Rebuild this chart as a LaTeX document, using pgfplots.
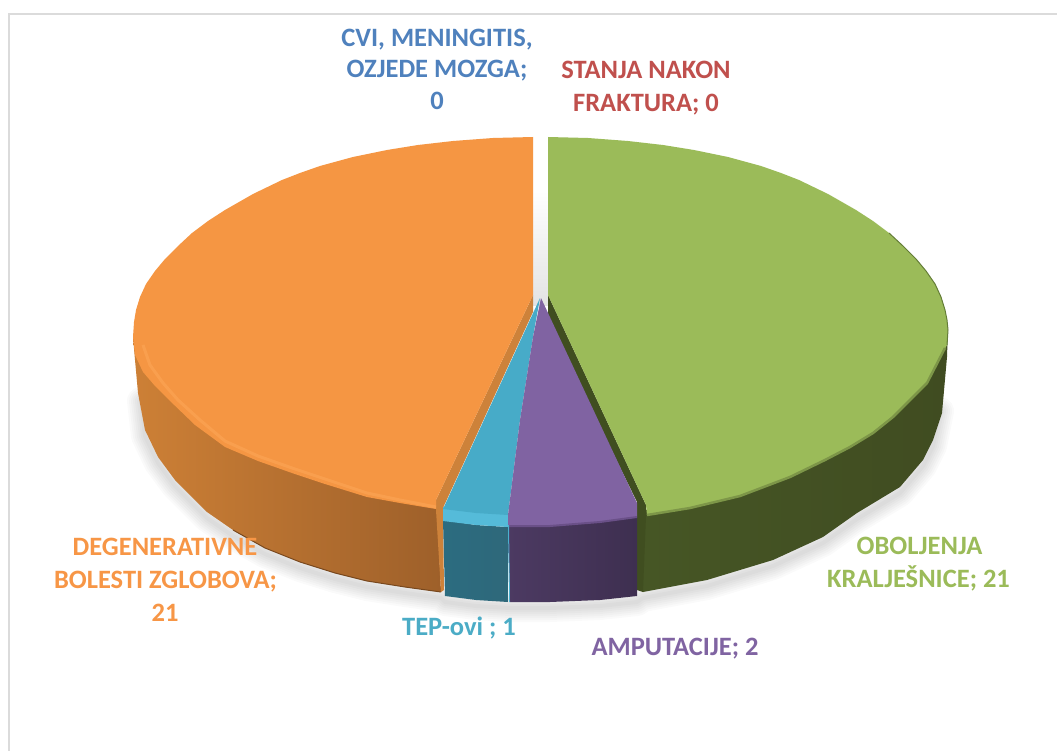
\documentclass[border=0pt]{standalone}
\usepackage{pgfplots}
\pgfplotsset{compat=1.18}
\usepackage{fontspec}
\setmainfont{Carlito}
\definecolor{cor}{HTML}{F59643}
\definecolor{cgr}{HTML}{9BBB59}
\definecolor{cbl}{HTML}{47ABC8}
\definecolor{cpu}{HTML}{8063A2}
\definecolor{lor}{HTML}{F79646}
\definecolor{lgr}{HTML}{9BBB59}
\definecolor{lbl}{HTML}{4F81BD}
\definecolor{lre}{HTML}{C0504D}
\definecolor{lpu}{HTML}{8064A2}
\definecolor{lte}{HTML}{4BACC6}
\begin{document}
\begin{tikzpicture}
\begin{axis}[scale only axis,width=1057pt,height=751pt,xmin=0,xmax=1057,ymin=0,ymax=751,y dir=reverse,hide axis,no markers,clip=true]
% frame
\addplot[draw=none,fill=white,forget plot] coordinates {(0,0)(1057,0)(1057,751)(0,751)};
\addplot[draw=black!14,line width=2pt,forget plot] coordinates {(8.5,751)(8.5,14)(1057,14)};
% soft shadow
\pgfplotsinvokeforeach{4,8,12,16,20,24,28}{
\addplot[draw=black,draw opacity=0.018,line width=#1pt,line cap=round,line join=round,yshift=-6pt,forget plot] coordinates {(141,395)(145,430)(158,457)(175,480)(207,512)(233,530)(265,548)(300,562)(335,573)(367,581)(405,587)(441,592)(445,596)(476,600)(510,602)(550,602)(600,600)(637,596)(643,592)(707,580)(773,560)(823,537)(857,513)(900,487)(923,460)(933,440)(940,405)};
}
% gap between the big slices
\addplot[draw=none,top color=white,bottom color=black!11,forget plot] coordinates {(530,190)(550,190)(550,305)(530,305)};
% orange side
\addplot[draw=none,left color={rgb,255:red,205;green,128;blue,54},right color={rgb,255:red,158;green,96;blue,42},forget plot] coordinates {(133,337)(135,360)(138,393)(145,430)(158,457)(175,480)(207,512)(233,530)(265,548)(300,562)(335,573)(367,581)(405,587)(441,592)(437,506)(400,499)(367,491)(325,477)(292,468)(258,457)(225,440)(200,420)(175,397)(158,377)(145,347)};
\addplot[draw={rgb,255:red,120;green,72;blue,30},line width=1pt,forget plot] coordinates {(233,530)(265,548)(300,562)(335,573)(367,581)(405,587)(441,592)};
% orange wedge facet
\addplot[draw=none,fill={rgb,255:red,205;green,130;blue,58},forget plot] coordinates {(533,295)(436,500)(436,510)(441,592)(444,590)(443,508)(533,312)};
% green side
\addplot[draw=none,left color={rgb,255:red,70;green,86;blue,37},right color={rgb,255:red,64;green,76;blue,33},forget plot] coordinates {(948,327)(947,357)(942,413)(933,440)(923,460)(900,487)(857,513)(823,537)(773,560)(707,580)(643,592)(645,510)(690,503)(740,492)(790,473)(825,456)(850,443)(873,429)(893,412)(927,378)(945,345)};
% green wedge facet
\addplot[draw=none,fill={rgb,255:red,64;green,78;blue,32},forget plot] coordinates {(548,295)(646,505)(646,516)(643,592)(637,590)(637,502)(548,320)};
% blue slice
\addplot[draw=none,left color={rgb,255:red,44;green,108;blue,128},right color={rgb,255:red,46;green,104;blue,122},forget plot] coordinates {(443,520)(476,525)(508,527)(508,602)(476,600)(445,596)};
\addplot[draw=none,fill={rgb,255:red,85;green,187;blue,217},forget plot] coordinates {(443,507)(476,511)(508,513)(508,527)(476,525)(443,521)};
\addplot[draw=none,fill=cbl,forget plot] coordinates {(540,298)(443,509)(476,513)(508,515)(520,420)(533,337)};
% purple slice
\addplot[draw=none,left color={rgb,255:red,76;green,58;blue,98},right color={rgb,255:red,62;green,47;blue,80},forget plot] coordinates {(508,525)(550,525)(600,521)(637,516)(637,596)(600,600)(550,602)(510,602)};
\addplot[draw=none,fill=cpu,forget plot] coordinates {(541,298)(533,337)(520,420)(508,515)(508,526)(550,526)(600,522)(637,517)(637,503)};
\addplot[draw={rgb,255:red,106;green,80;blue,136},line width=2pt,forget plot] coordinates {(508,526)(550,526)(600,522)(637,517)};
\addplot[draw={rgb,255:red,75;green,176;blue,207},line width=1pt,forget plot] coordinates {(508.5,525)(509.5,602)};
% orange top face
\addplot[draw=none,fill=cor,forget plot] coordinates {(533,137)(493,138)(453,141)(418,145)(387,150)(353,157)(320,166)(300,173)(282,180)(253,194)(225,210)(208,221)(192,233)(178,246)(165,259)(155,271)(146,284)(140,297)(136,310)(134,322)(133,337)(135,355)(143,372)(155,386)(168,399)(195,425)(225,447)(258,461)(292,473)(325,484)(367,497)(400,503)(436,509)(436,500)(533,295)};
\addplot[draw={rgb,255:red,255;green,170;blue,92},draw opacity=0.45,line width=3pt,line join=round,forget plot] coordinates {(143,345)(150,365)(163,383)(178,400)(200,420)(225,441)(258,456)(292,468)(325,479)(367,493)(400,500)(436,507)};
% green top face
\addplot[draw=none,fill=cgr,forget plot] coordinates {(548,137)(588,138)(628,141)(663,145)(694,150)(728,157)(761,166)(781,173)(799,180)(828,194)(856,210)(873,221)(889,233)(903,246)(916,259)(926,271)(935,284)(941,297)(945,310)(947,320)(948,330)(947,345)(927,383)(893,417)(873,433)(850,447)(825,460)(790,477)(740,496)(690,508)(647,515)(646,505)(548,295)};
\addplot[draw={rgb,255:red,125;green,150;blue,72},line width=2.5pt,line join=round,forget plot] coordinates {(945,348)(927,383)(893,417)(873,433)(850,447)(825,460)(790,477)(740,496)(690,508)(647,515)};
\addplot[draw={rgb,255:red,100;green,125;blue,55},line width=1pt,line join=round,forget plot] coordinates {(889,233)(903,246)(916,259)(926,271)(935,284)(941,297)(945,310)(947,320)(948,330)(947,345)};
% labels
\begingroup
\def\lab#1#2#3#4{\node[font=\fontsize{26.5}{26.5}\selectfont\bfseries,text=#1,inner sep=0pt,anchor=base] at (axis cs:#2,#3) {#4};}
\lab{lbl}{437}{47}{CVI, MENINGITIS,}
\lab{lbl}{437}{78}{OZJEDE MOZGA;}
\lab{lbl}{437}{110}{0}
\lab{lre}{646}{79}{STANJA NAKON}
\lab{lre}{646}{112}{FRAKTURA; 0}
\lab{lor}{165}{555}{DEGENERATIVNE}
\lab{lor}{165.5}{588}{BOLESTI ZGLOBOVA;}
\lab{lor}{165}{621}{21}
\lab{lgr}{919.5}{554}{OBOLJENJA}
\lab{lgr}{918.5}{587}{KRALJEŠNICE; 21}
\lab{lte}{459}{635}{TEP-ovi ; 1}
\lab{lpu}{675}{655}{AMPUTACIJE; 2}
\endgroup
\end{axis}
\end{tikzpicture}
\end{document}
